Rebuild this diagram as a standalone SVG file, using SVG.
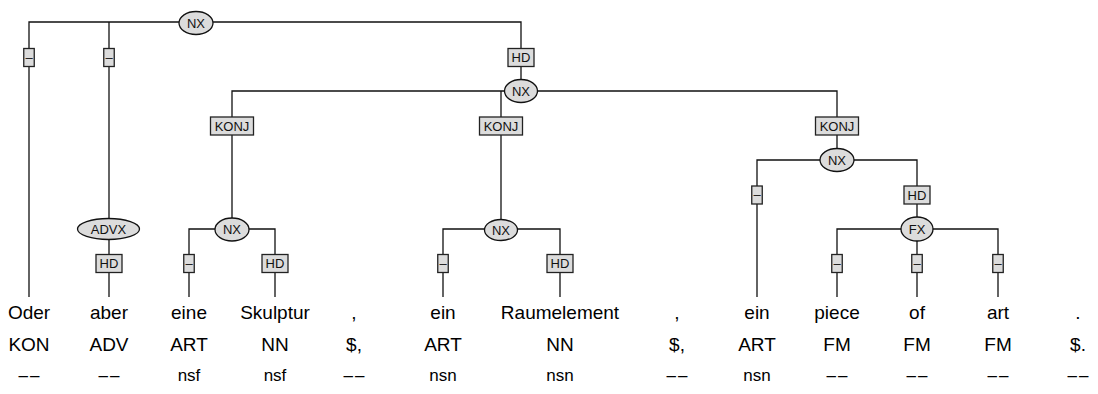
<svg xmlns="http://www.w3.org/2000/svg" width="1098" height="394" viewBox="0 0 1098 394">
<style>
.c{fill:none;stroke:#111;stroke-width:1.3}
.n ellipse{fill:#dcdcdc;stroke:#111;stroke-width:1.3}
.e rect{fill:#dcdcdc;stroke:#222;stroke-width:1.3}
.lt{font-family:"Liberation Sans",Arial,sans-serif;font-size:13px;fill:#111;text-anchor:middle}
.w{font-family:"Liberation Sans",Arial,sans-serif;font-size:19px;fill:#000;text-anchor:middle}
.m{font-family:"Liberation Sans",Arial,sans-serif;font-size:17px;fill:#000;text-anchor:middle}
.d{letter-spacing:2px}
</style>
<rect width="1098" height="394" fill="#fff"/>
<g id="connectors" class="c">
<path d="M29 297V22H521V91"/>
<path d="M109 22V229"/>
<path d="M109 229V297"/>
<path d="M232 229V91H837V160"/>
<path d="M501 91V229"/>
<path d="M189 297V229H275V297"/>
<path d="M443 297V229H560V297"/>
<path d="M757 297V160H917V229"/>
<path d="M837 297V229H998V297"/>
<path d="M917 229V297"/>
</g>
<g id="edge-labels">
<g class="e" id="e1"><rect x="23.75" y="48.5" width="10.5" height="18"/><text class="lt" x="29" y="61.5">–</text></g>
<g class="e" id="e2"><rect x="103.75" y="48.5" width="10.5" height="18"/><text class="lt" x="109" y="61.5">–</text></g>
<g class="e" id="e3"><rect x="508" y="48.5" width="26" height="18"/><text class="lt" x="521" y="62">HD</text></g>
<g class="e" id="e4"><rect x="210.5" y="117" width="43" height="18"/><text class="lt" x="232" y="130.5">KONJ</text></g>
<g class="e" id="e5"><rect x="479.5" y="117" width="43" height="18"/><text class="lt" x="501" y="130.5">KONJ</text></g>
<g class="e" id="e6"><rect x="815.5" y="117" width="43" height="18"/><text class="lt" x="837" y="130.5">KONJ</text></g>
<g class="e" id="e7"><rect x="751.75" y="186" width="10.5" height="18"/><text class="lt" x="757" y="199">–</text></g>
<g class="e" id="e8"><rect x="904" y="186" width="26" height="18"/><text class="lt" x="917" y="199.5">HD</text></g>
<g class="e" id="e9"><rect x="96" y="254.5" width="26" height="18"/><text class="lt" x="109" y="268">HD</text></g>
<g class="e" id="e10"><rect x="183.75" y="254.5" width="10.5" height="18"/><text class="lt" x="189" y="267.5">–</text></g>
<g class="e" id="e11"><rect x="262" y="254.5" width="26" height="18"/><text class="lt" x="275" y="268">HD</text></g>
<g class="e" id="e12"><rect x="437.75" y="254.5" width="10.5" height="18"/><text class="lt" x="443" y="267.5">–</text></g>
<g class="e" id="e13"><rect x="547" y="254.5" width="26" height="18"/><text class="lt" x="560" y="268">HD</text></g>
<g class="e" id="e14"><rect x="831.75" y="254.5" width="10.5" height="18"/><text class="lt" x="837" y="267.5">–</text></g>
<g class="e" id="e15"><rect x="911.75" y="254.5" width="10.5" height="18"/><text class="lt" x="917" y="267.5">–</text></g>
<g class="e" id="e16"><rect x="992.75" y="254.5" width="10.5" height="18"/><text class="lt" x="998" y="267.5">–</text></g>
</g>
<g id="nodes">
<g class="n" id="nx-top"><ellipse cx="196" cy="23" rx="17" ry="11.5"/><text class="lt" x="196" y="27.5">NX</text></g>
<g class="n" id="nx-2"><ellipse cx="521" cy="91" rx="16.5" ry="11.5"/><text class="lt" x="521" y="95.5">NX</text></g>
<g class="n" id="nx-konj3"><ellipse cx="837" cy="160" rx="17" ry="11.5"/><text class="lt" x="837" y="164.5">NX</text></g>
<g class="n" id="advx"><ellipse cx="108.5" cy="229" rx="31" ry="10.5"/><text class="lt" x="108.5" y="233.5">ADVX</text></g>
<g class="n" id="nx-konj1"><ellipse cx="232" cy="229.5" rx="17" ry="11.5"/><text class="lt" x="232" y="234">NX</text></g>
<g class="n" id="nx-konj2"><ellipse cx="501" cy="230" rx="16.5" ry="10.5"/><text class="lt" x="501" y="234.5">NX</text></g>
<g class="n" id="fx"><ellipse cx="917" cy="229" rx="16" ry="12"/><text class="lt" x="917" y="233.5">FX</text></g>
</g>
<g id="tokens">
<g id="t1"><text class="w" x="29" y="319">Oder</text><text class="w" x="29" y="350.5">KON</text><text class="m d" x="30" y="380.5">––</text></g>
<g id="t2"><text class="w" x="109" y="319">aber</text><text class="w" x="109" y="350.5">ADV</text><text class="m d" x="110" y="380.5">––</text></g>
<g id="t3"><text class="w" x="189" y="319">eine</text><text class="w" x="189" y="350.5">ART</text><text class="m" x="189" y="380.5">nsf</text></g>
<g id="t4"><text class="w" x="275" y="319">Skulptur</text><text class="w" x="275" y="350.5">NN</text><text class="m" x="275" y="380.5">nsf</text></g>
<g id="t5"><text class="w" x="354" y="319">,</text><text class="w" x="354" y="350.5">$,</text><text class="m d" x="355" y="380.5">––</text></g>
<g id="t6"><text class="w" x="443" y="319">ein</text><text class="w" x="443" y="350.5">ART</text><text class="m" x="443" y="380.5">nsn</text></g>
<g id="t7"><text class="w" x="560" y="319">Raumelement</text><text class="w" x="560" y="350.5">NN</text><text class="m" x="560" y="380.5">nsn</text></g>
<g id="t8"><text class="w" x="677" y="319">,</text><text class="w" x="677" y="350.5">$,</text><text class="m d" x="678" y="380.5">––</text></g>
<g id="t9"><text class="w" x="757" y="319">ein</text><text class="w" x="757" y="350.5">ART</text><text class="m" x="757" y="380.5">nsn</text></g>
<g id="t10"><text class="w" x="837" y="319">piece</text><text class="w" x="837" y="350.5">FM</text><text class="m d" x="838" y="380.5">––</text></g>
<g id="t11"><text class="w" x="917" y="319">of</text><text class="w" x="917" y="350.5">FM</text><text class="m d" x="918" y="380.5">––</text></g>
<g id="t12"><text class="w" x="998" y="319">art</text><text class="w" x="998" y="350.5">FM</text><text class="m d" x="999" y="380.5">––</text></g>
<g id="t13"><text class="w" x="1078" y="319">.</text><text class="w" x="1078" y="350.5">$.</text><text class="m d" x="1079" y="380.5">––</text></g>
</g>
</svg>
